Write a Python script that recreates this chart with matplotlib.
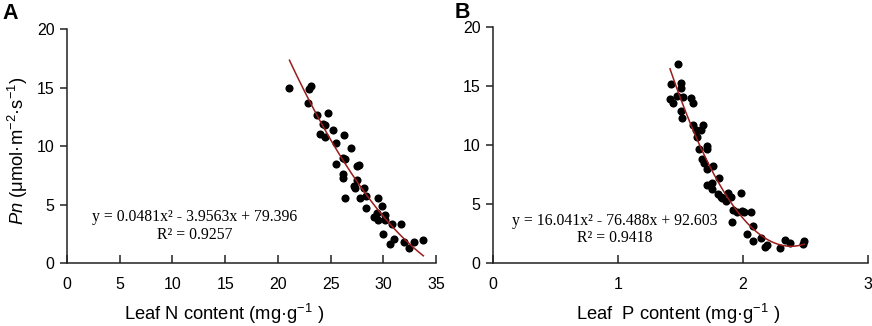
import numpy as np
import matplotlib.pyplot as plt

plt.rcParams['font.family'] = ['Liberation Sans', 'DejaVu Sans']
plt.rcParams['mathtext.fontset'] = 'custom'
plt.rcParams['mathtext.rm'] = 'Liberation Sans'
plt.rcParams['mathtext.it'] = 'Liberation Sans:italic'

# Panel A: leaf N content vs Pn
n_x = [21.1, 23.1, 23.0, 22.9, 23.7, 24.75, 24.3, 24.5, 25.2, 26.3, 24.0, 24.5,
       25.5, 26.9, 26.2, 26.4, 25.5, 27.5, 27.7, 26.2, 26.2, 27.5, 27.2, 27.3,
       28.2, 26.4, 27.8, 28.4, 28.4, 29.5, 29.9, 29.1, 29.5, 29.4, 30.2, 30.2,
       29.95, 30.8, 31.7, 31.0, 30.6, 32.0, 32.4, 32.9, 33.8]
n_y = [15.0, 15.15, 14.9, 13.7, 12.65, 12.85, 11.9, 11.8, 11.4, 10.97, 11.0, 10.8,
       10.3, 9.8, 9.0, 8.9, 8.5, 8.3, 8.4, 7.6, 7.3, 7.1, 6.6, 6.4,
       6.4, 5.6, 5.55, 5.7, 4.7, 5.6, 4.9, 3.95, 3.7, 4.25, 4.1, 3.7,
       2.5, 3.3, 3.3, 2.05, 1.6, 1.8, 1.3, 1.8, 2.0]
n_coef = [0.0481, -3.9563, 79.396]
n_eq = 'y = 0.0481x² - 3.9563x + 79.396\nR² = 0.9257'

# Panel B: leaf P content vs Pn
p_x = [1.483, 1.42, 1.50, 1.50, 1.47, 1.52, 1.416, 1.44, 1.58, 1.60, 1.50, 1.51,
       1.60, 1.62, 1.63, 1.66, 1.68, 1.71, 1.71, 1.65, 1.67, 1.69, 1.71, 1.76,
       1.81, 1.71, 1.75, 1.75, 1.80, 1.82, 1.83, 1.88, 1.90, 1.86, 1.98, 1.92,
       1.95, 1.99, 2.01, 2.06, 1.91, 2.08, 2.03, 2.08, 2.14, 2.18, 2.19, 2.30,
       2.34, 2.38, 2.49, 2.48]
p_y = [16.9, 15.2, 15.3, 14.8, 14.2, 14.1, 13.9, 13.6, 14.0, 13.6, 12.9, 12.3,
       11.7, 11.3, 10.7, 11.3, 11.7, 9.9, 9.7, 9.7, 8.8, 8.45, 8.0, 8.2,
       7.2, 6.6, 6.75, 6.3, 5.85, 5.6, 5.5, 5.9, 5.6, 5.3, 5.9, 4.5,
       4.3, 4.4, 4.3, 4.3, 3.5, 3.1, 2.5, 1.9, 2.1, 1.4, 1.5, 1.3,
       1.95, 1.7, 1.86, 1.6]
p_coef = [16.041, -76.488, 92.603]
p_eq = 'y = 16.041x² - 76.488x + 92.603\nR² = 0.9418'

fig = plt.figure(figsize=(8.72, 3.26), dpi=100)
axA = fig.add_axes([0.0768, 0.193, 0.4232, 0.718])
axB = fig.add_axes([0.5654, 0.193, 0.4300, 0.724])


def style(ax, xmax, xstep):
    ax.set_xlim(0, xmax)
    ax.set_ylim(0, 20)
    ax.set_xticks(np.arange(0, xmax + 0.01, xstep))
    ax.set_yticks([0, 5, 10, 15, 20])
    for s in ['top', 'right']:
        ax.spines[s].set_visible(False)
    for s in ['left', 'bottom']:
        ax.spines[s].set_linewidth(1.1)
        ax.spines[s].set_color('#222222')
    ax.tick_params(axis='x', direction='in', length=6, width=1.1,
                   labelsize=11.5, pad=10, color='#222222')
    ax.tick_params(axis='y', direction='out', length=5, width=1.1,
                   labelsize=11.5, pad=4, color='#222222')


def panel(ax, xs, ys, coef, eq, eq_pos):
    ax.scatter(xs, ys, s=34, color='black', zorder=3, linewidths=0)
    xx = np.linspace(min(xs), max(xs), 200)
    ax.plot(xx, np.polyval(coef, xx), color='#9b1c1c', lw=1.1, zorder=4)
    ax.text(eq_pos[0], eq_pos[1], eq, ha='center', va='center',
            family='Liberation Serif', fontsize=11.3, linespacing=1.15)


style(axA, 35, 5)
panel(axA, n_x, n_y, n_coef, n_eq, (12.1, 3.15))
axA.set_xlabel('Leaf N content (mg·g$^{-1}$ )', fontsize=13.2)
axA.xaxis.set_label_coords(0.425, -0.165)
axA.set_ylabel(r'$\mathit{Pn}$ (μmol·m$^{-2}$·s$^{-1}$)', fontsize=13.2)
axA.yaxis.set_label_coords(-0.1, 0.48)

style(axB, 3, 1)
panel(axB, p_x, p_y, p_coef, p_eq, (0.976, 2.85))
axB.set_xlabel('Leaf  P content (mg·g$^{-1}$ )', fontsize=13.2)
axB.xaxis.set_label_coords(0.494, -0.165)

fig.text(0.003, 0.99, 'A', fontsize=15.5, fontweight='bold', va='top')
fig.text(0.521, 0.995, 'B', fontsize=15.5, fontweight='bold', va='top')

fig.savefig('out.png', dpi=100)
